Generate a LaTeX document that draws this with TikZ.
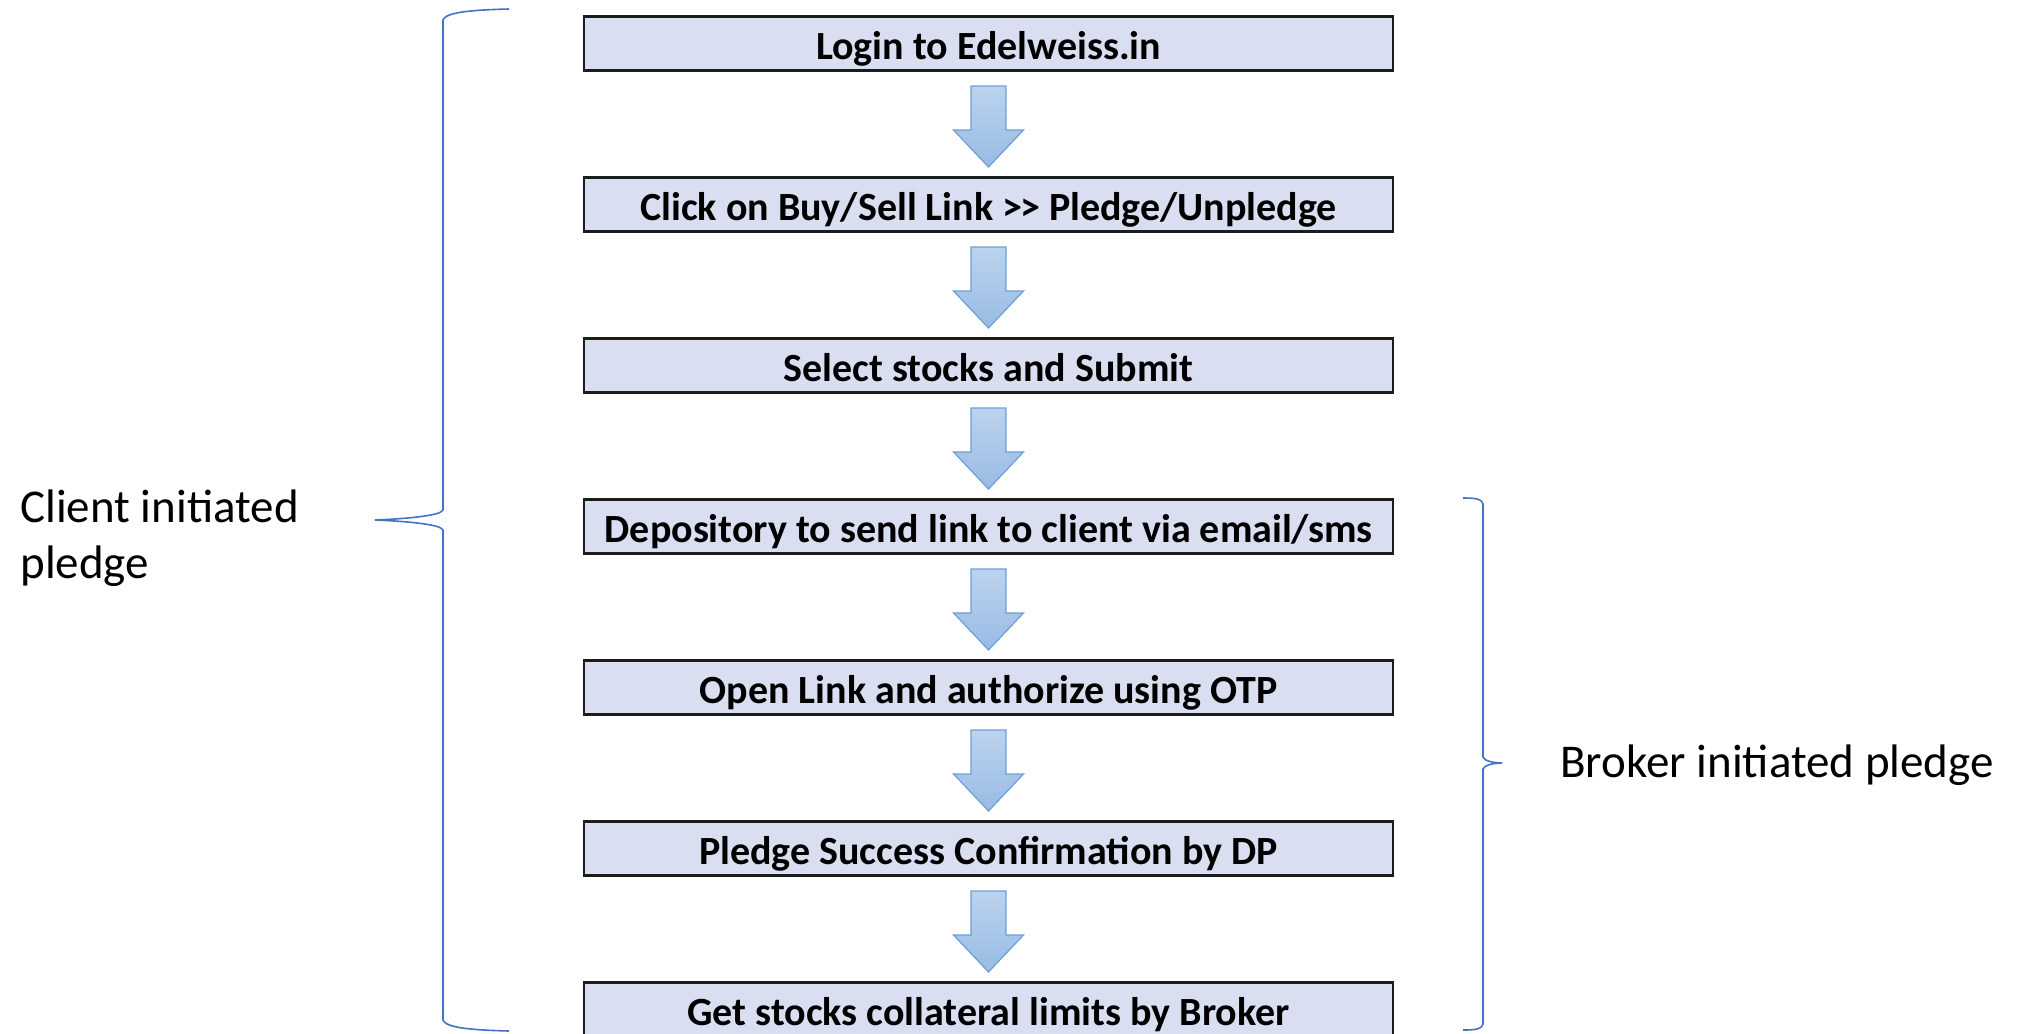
\documentclass[tikz,border=0pt]{standalone}
\usepackage{fontspec}
\setmainfont{Carlito}
\usetikzlibrary{calc,positioning}
\definecolor{stepfill}{HTML}{D9DFF1}
\definecolor{stepline}{HTML}{1C1C1C}
\definecolor{arrowtop}{HTML}{BCD3EE}
\definecolor{arrowbot}{HTML}{98BBE4}
\definecolor{arrowline}{HTML}{6C9FD6}
\definecolor{bracecol}{HTML}{4472C4}
\tikzset{
    pledge flow/.style = {x=0.5pt, y=-0.5pt},
    stepbox/.style     = {draw=stepline, line width=1.3pt, fill=stepfill,
                          outer sep=0pt, inner sep=0pt,
                          text height=15.5pt, text depth=0pt,
                          minimum width=404.5pt, minimum height=27pt,
                          font=\bfseries\fontsize{20}{24}\selectfont},
    flow arrow/.style  = {draw=arrowline, line width=0.6pt,
                          top color=arrowtop, bottom color=arrowbot},
    brace line/.style  = {draw=bracecol, line width=0.8pt},
    side label/.style  = {anchor=base west, align=left, inner sep=0pt,
                          font=\fontsize{23.5}{28}\selectfont}
}

\begin{document}
\begin{tikzpicture}[pledge flow]
\useasboundingbox (0,0) rectangle (2023,1033);

% Pledge steps, top to bottom
\node[stepbox] (login) at (988.5,43.5) {Login to Edelweiss.in};
\node[stepbox, below=53.5pt of login]   (buysell) {Click on Buy/Sell Link >\kern-1pt> Pledge/Unpledge};
\node[stepbox, below=53.5pt of buysell] (select)  {Select stocks and Submit};
\node[stepbox, below=53.5pt of select]  (deposit) {Depository to send link to client via email/sms};
\node[stepbox, below=53.5pt of deposit] (otp)     {Open Link and authorize using OTP};
\node[stepbox, below=53.5pt of otp]     (confirm) {Pledge Success Confirmation by DP};
\node[stepbox, below=53.5pt of confirm] (limits)  {Get stocks collateral limits by Broker};

% Block arrows between consecutive steps
\foreach \a/\b in {login/buysell, buysell/select, select/deposit,
                   deposit/otp, otp/confirm, confirm/limits} {
    \path[flow arrow]
        ($(\a.south)+(-17.5,15.5)$) -- ($(\a.south)+(17.5,15.5)$)
        -- ($(\b.north)+(17.5,-47.5)$) -- ($(\b.north)+(35,-47.5)$)
        -- ($(\b.north)+(0,-10.5)$)
        -- ($(\b.north)+(-35,-47.5)$) -- ($(\b.north)+(-17.5,-47.5)$)
        -- cycle;
}

% Client brace (left) and its label
\draw[brace line] (509,9) .. controls (472,10) and (446,12) .. (443,20)
    -- (443,510) .. controls (441,516) and (402,519) .. (375,520)
    .. controls (402,521) and (441,524) .. (443,530)
    -- (443,1020) .. controls (446,1028) and (472,1030) .. (509,1031);
\node[side label] (client) at (20,578) {Client initiated\\pledge};

% Broker brace (right) and its label
\draw[brace line] (1463,498) .. controls (1476,498) and (1482,499) .. (1483,504)
    -- (1483,757) .. controls (1484,761) and (1494,763) .. (1502,763)
    .. controls (1494,763) and (1484,765) .. (1483,769)
    -- (1483,1024) .. controls (1482,1029) and (1476,1030) .. (1463,1030);
\node[side label] (broker) at (1560,777) {Broker initiated pledge};

\end{tikzpicture}
\end{document}
